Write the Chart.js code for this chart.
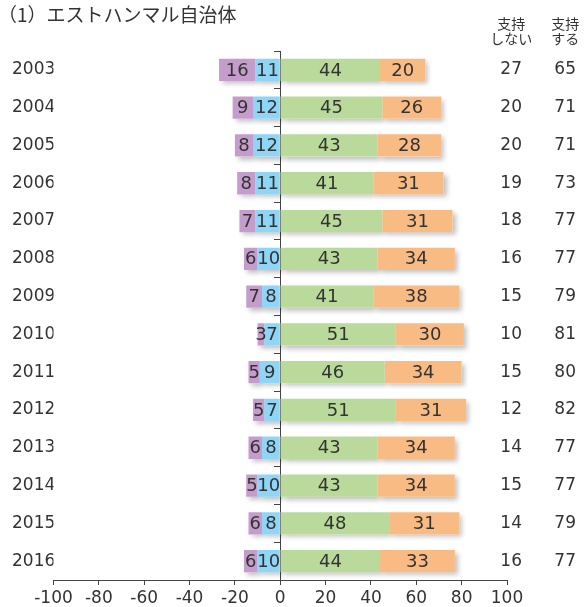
<!DOCTYPE html>
<html lang="ja">
<head>
<meta charset="utf-8">
<title>エストハンマル自治体</title>
<script src="https://cdn.jsdelivr.net/npm/chart.js@4.4.1/dist/chart.umd.min.js"></script>
<style>
    html, body { margin: 0; padding: 0; background: #fff; }
    #wrap { width: 588px; height: 607px; position: relative; }
</style>
</head>
<body>
<div id="wrap"><canvas id="municipalityChart"></canvas></div>
<script>
// ========================================
// DATA
// ========================================

const years = ['2003', '2004', '2005', '2006', '2007', '2008', '2009',
               '2010', '2011', '2012', '2013', '2014', '2015', '2016'];

// 反対側 (drawn to the left of zero)
const stronglyOppose = [16, 9, 8, 8, 7, 6, 7, 3, 5, 5, 6, 5, 6, 6];
const oppose         = [11, 12, 12, 11, 11, 10, 8, 7, 9, 7, 8, 10, 8, 10];

// 支持側 (drawn to the right of zero)
const support         = [44, 45, 43, 41, 45, 43, 41, 51, 46, 51, 43, 43, 48, 44];
const stronglySupport = [20, 26, 28, 31, 31, 34, 38, 30, 34, 31, 34, 34, 31, 33];

// right hand columns
const totalOppose  = [27, 20, 20, 19, 18, 16, 15, 10, 15, 12, 14, 15, 14, 16];
const totalSupport = [65, 71, 71, 73, 77, 77, 79, 81, 80, 82, 77, 77, 79, 77];

const xTicks = [-100, -80, -60, -40, -20, 0, 20, 40, 60, 80, 100];

const chartTitle = '（1）エストハンマル自治体';
const headOppose = ['支持', 'しない'];
const headSupport = ['支持', 'する'];

(function () {
    'use strict';

    const colors = {
        purple: '#c59dcc',
        blue: '#8fd5f5',
        green: '#b9da9b',
        orange: '#f9bb84',
        text: '#333333',
        axis: '#444444'
    };

    const numFont = "'DejaVu Sans', sans-serif";
    const jpFont = "'Noto Sans CJK JP', sans-serif";

    // soft drop shadow under every bar segment
    const shadowPlugin = {
        id: 'barShadow',
        beforeDatasetsDraw(chart) {
            const ctx = chart.ctx;
            ctx.save();
            ctx.shadowColor = 'rgba(0, 0, 0, 0.25)';
            ctx.shadowBlur = 5;
            ctx.shadowOffsetX = 3;
            ctx.shadowOffsetY = 3;
            ctx.fillStyle = '#ffffff';
            chart.data.datasets.forEach((ds, i) => {
                chart.getDatasetMeta(i).data.forEach((bar) => {
                    const p = bar.getProps(['x', 'y', 'base', 'height'], true);
                    ctx.fillRect(Math.min(p.x, p.base), p.y - p.height / 2,
                                 Math.abs(p.x - p.base), p.height);
                });
            });
            ctx.restore();
        }
    };

    // value printed in the middle of each segment
    const barLabelPlugin = {
        id: 'barLabels',
        afterDatasetsDraw(chart) {
            const ctx = chart.ctx;
            ctx.save();
            ctx.font = '18px ' + numFont;
            ctx.fillStyle = colors.text;
            ctx.textAlign = 'center';
            ctx.textBaseline = 'middle';
            chart.data.datasets.forEach((ds, i) => {
                chart.getDatasetMeta(i).data.forEach((bar, j) => {
                    const p = bar.getProps(['x', 'y', 'base'], true);
                    ctx.fillText(String(Math.abs(ds.data[j])), (p.x + p.base) / 2, p.y + 1);
                });
            });
            ctx.restore();
        }
    };

    // title and the two column headers
    const headerPlugin = {
        id: 'headers',
        afterDraw(chart) {
            const ctx = chart.ctx;
            ctx.save();
            ctx.fillStyle = colors.text;
            ctx.textBaseline = 'middle';
            ctx.font = '19px ' + jpFont;
            ctx.textAlign = 'left';
            ctx.fillText(chartTitle, -2, 15);

            ctx.font = '17px ' + numFont;
            const colW = ctx.measureText('00').width;
            ctx.font = '14px ' + jpFont;
            ctx.textAlign = 'center';
            const c1 = chart.scales.yOppose.left + 15 - colW / 2;
            const c2 = chart.scales.ySupport.right - colW / 2;
            ctx.fillText(headOppose[0], c1, 24);
            ctx.fillText(headOppose[1], c1, 39);
            ctx.fillText(headSupport[0], c2, 24);
            ctx.fillText(headSupport[1], c2, 39);
            ctx.restore();
        }
    };

    const neg = (arr) => arr.map((v) => -v);

    const data = {
        labels: years,
        datasets: [
            { label: '支持しない', data: neg(oppose), backgroundColor: colors.blue },
            { label: 'まったく支持しない', data: neg(stronglyOppose), backgroundColor: colors.purple },
            { label: '支持する', data: support, backgroundColor: colors.green },
            { label: '強く支持する', data: stronglySupport, backgroundColor: colors.orange }
        ].map((ds) => ({
            ...ds,
            yAxisID: 'y',
            borderWidth: 0,
            barPercentage: 0.59,
            categoryPercentage: 1
        }))
    };

    // right hand number columns, right aligned
    const rightColumn = (labels, width, mirrored) => ({
        type: 'category',
        position: 'right',
        labels: labels.map(String),
        offset: true,
        grid: { display: false },
        border: { display: false },
        ticks: {
            autoSkip: false,
            mirror: mirrored,
            padding: mirrored ? width : 0,
            crossAlign: mirrored ? 'near' : 'far',
            color: colors.text,
            font: { family: numFont, size: 17 }
        },
        afterFit: (axis) => { axis.width = width; }
    });

    const config = {
        type: 'bar',
        data: data,
        options: {
            indexAxis: 'y',
            responsive: true,
            maintainAspectRatio: false,
            animation: false,
            layout: { padding: { left: 12, right: 12, top: 51, bottom: 0 } },
            plugins: {
                legend: { display: false },
                title: { display: false },
                tooltip: { enabled: false }
            },
            scales: {
                x: {
                    type: 'linear',
                    stacked: true,
                    min: -100,
                    max: 100,
                    afterBuildTicks: (axis) => {
                        axis.ticks = xTicks.map((v) => ({ value: v }));
                    },
                    grid: {
                        drawOnChartArea: false,
                        tickLength: 5,
                        color: colors.axis
                    },
                    border: { color: colors.axis, width: 1 },
                    ticks: {
                        padding: 3,
                        color: colors.text,
                        font: { family: numFont, size: 17 }
                    },
                    afterFit: (axis) => { axis.height = 27; }
                },
                y: {
                    type: 'category',
                    stacked: true,
                    position: 'left',
                    grid: { display: false },
                    border: { display: false },
                    ticks: {
                        autoSkip: false,
                        crossAlign: 'far',
                        color: colors.text,
                        font: { family: numFont, size: 17 }
                    },
                    afterFit: (axis) => { axis.width = 41.5; }
                },
                // zero line with the small category tick marks
                yZero: {
                    type: 'category',
                    position: { x: 0 },
                    offset: true,
                    z: 1,
                    grid: {
                        offset: true,
                        drawOnChartArea: false,
                        tickLength: 6,
                        color: colors.axis
                    },
                    border: { display: true, color: colors.axis, width: 1 },
                    ticks: { display: false, autoSkip: false }
                },
                yOppose: rightColumn(totalOppose, 15, true),
                ySupport: rightColumn(totalSupport, 54, false)
            }
        },
        plugins: [shadowPlugin, barLabelPlugin, headerPlugin]
    };

    new Chart(document.getElementById('municipalityChart'), config);
})();
</script>
</body>
</html>
